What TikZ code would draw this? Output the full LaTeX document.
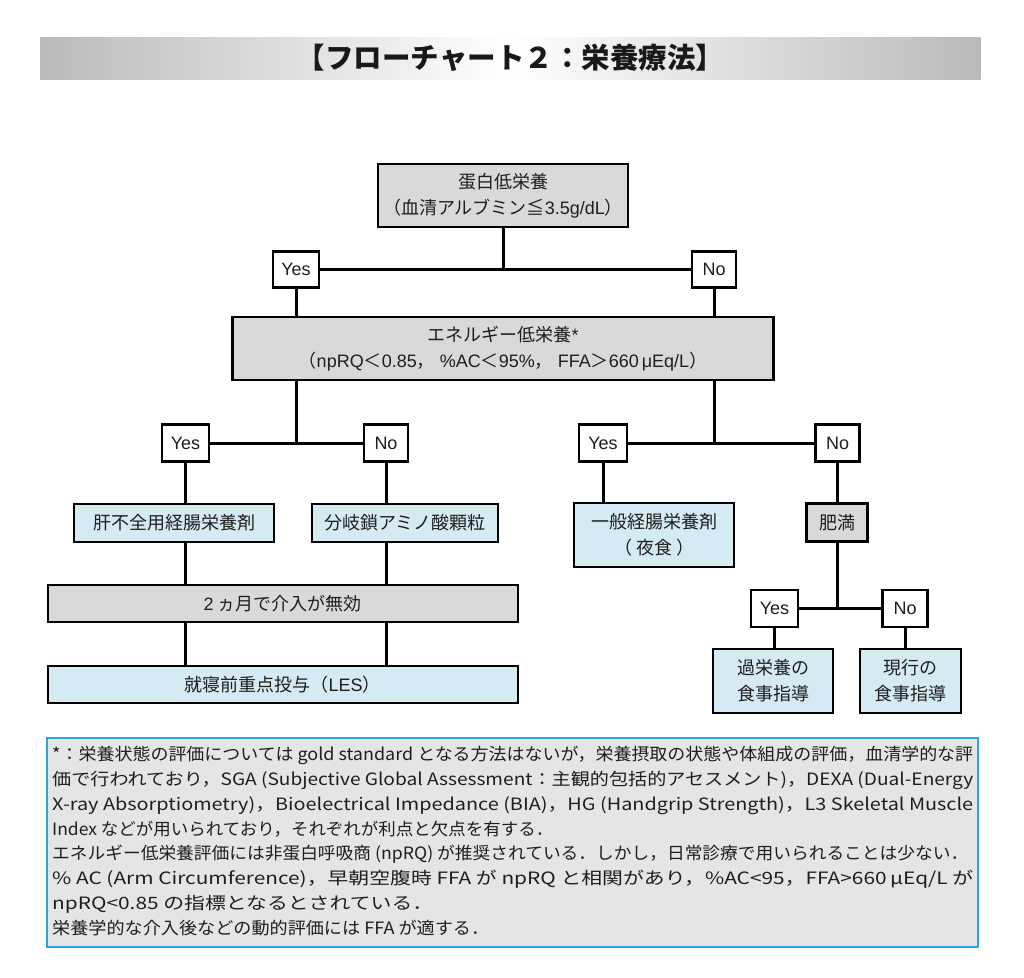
\documentclass[tikz,border=0pt]{standalone}
\usepackage{fontspec}
\usepackage{graphicx}
\setmainfont{Noto Sans CJK JP}
\newfontfamily\jp{Noto Sans CJK JP}
\newfontfamily\lat{Liberation Sans}
\definecolor{boxgray}{RGB}{217,217,217}
\definecolor{boxblue}{RGB}{214,234,243}
\definecolor{fngray}{RGB}{229,229,229}
\definecolor{fnblue}{RGB}{43,166,222}
\definecolor{tgray}{RGB}{186,186,186}
\definecolor{txt}{RGB}{30,30,30}
\tikzset{
  box/.style={draw=black, line width=2.3pt, inner sep=0pt, align=center, text=txt,
    font=\jp\fontsize{18}{26}\selectfont},
  gbox/.style={box, fill=boxgray},
  bbox/.style={box, fill=boxblue},
  yn/.style={box, fill=white},
  conn/.style={line width=3pt, draw=black},
  fn/.style={inner sep=0pt, anchor=base west, text=txt, font=\jp\fontsize{17}{20}\selectfont}
}
\begin{document}
\begin{tikzpicture}[x=1pt,y=-1pt]
\useasboundingbox (0,0) rectangle (1024,977);
\fill[white] (0,0) rectangle (1024,977);
% title bar
\shade[left color=tgray, right color=tgray, middle color=white] (40.3,37.3) rectangle (980.7,79);
\node[inner sep=0pt, text=black!90, font=\jp\bfseries\fontsize{28.5}{30}\selectfont] (title) at (510.5,58) {【フローチャート２：栄養療法】};

% nodes
\node[gbox, minimum width=250pt, minimum height=63pt] (n1) at (503,195.5) {蛋白低栄養\\（血清アルブミン≦{\lat 3.5g/dL}）};
\node[yn, minimum width=46pt, minimum height=36pt] (y1) at (296,269.5) {\lat Yes};
\node[yn, minimum width=44pt, minimum height=36pt] (no1) at (714,269.5) {\lat No};
\node[gbox, minimum width=541pt, minimum height=63pt] (n2) at (503,348.3) {エネルギー低栄養{\lat *}\\（{\lat npRQ}＜{\lat 0.85}，\hspace{5pt}{\lat\%AC}＜{\lat 95\%}，\hspace{5pt}{\lat FFA}＞{\lat 660\,μEq/L}）};

\node[yn, minimum width=47pt, minimum height=37pt] (y2) at (185.5,443) {\lat Yes};
\node[yn, minimum width=44pt, minimum height=37pt] (no2) at (386,443) {\lat No};
\node[yn, minimum width=48pt, minimum height=37pt] (y3) at (603,443) {\lat Yes};
\node[yn, minimum width=44pt, minimum height=37pt] (no3) at (837.5,443) {\lat No};

\node[bbox, minimum width=200pt, minimum height=38pt] (a1) at (174,523) {肝不全用経腸栄養剤};
\node[bbox, minimum width=186pt, minimum height=38pt] (a2) at (405,523) {分岐鎖アミノ酸顆粒};
\node[bbox, minimum width=160pt, minimum height=63.5pt] (g) at (654.3,535) {一般経腸栄養剤\\（ 夜食 ）};
\node[gbox, minimum width=61pt, minimum height=38pt] (ob) at (837,522.5) {肥満};

\node[gbox, minimum width=470pt, minimum height=37pt] (m) at (282.7,603.3) {{\lat 2} ヵ月で介入が無効};
\node[bbox, minimum width=470pt, minimum height=37pt] (les) at (282.7,684.7) {就寝前重点投与（{\lat LES}）};

\node[yn, minimum width=47pt, minimum height=37pt] (y4) at (774.5,608.8) {\lat Yes};
\node[yn, minimum width=45pt, minimum height=37pt] (no4) at (905,608.8) {\lat No};
\node[bbox, minimum width=120.6pt, minimum height=64pt] (k1) at (773,680.7) {過栄養の\\食事指導};
\node[bbox, minimum width=100.7pt, minimum height=64pt] (k2) at (910.3,680.7) {現行の\\食事指導};

% connectors
\draw[conn] (n1.south) -- (n1.south |- y1.east);
\draw[conn] (y1.east) -- (no1.west);
\draw[conn] (y1.south) -- (y1.south |- n2.north);
\draw[conn] (no1.south) -- (no1.south |- n2.north);

\coordinate (j2) at (y1.south |- y2.east);
\coordinate (j3) at (no1.south |- y3.east);
\draw[conn] (y1.south |- n2.south) -- (j2);
\draw[conn] (y2.east) -- (no2.west);
\draw[conn] (no1.south |- n2.south) -- (j3);
\draw[conn] (y3.east) -- (no3.west);

\draw[conn] (y2.south) -- (y2.south |- a1.north);
\draw[conn] (no2.south) -- (no2.south |- a2.north);
\draw[conn] (y2.south |- a1.south) -- (y2.south |- m.north);
\draw[conn] (no2.south |- a2.south) -- (no2.south |- m.north);
\draw[conn] (y2.south |- m.south) -- (y2.south |- les.north);
\draw[conn] (no2.south |- m.south) -- (no2.south |- les.north);

\draw[conn] (y3.south) -- (y3.south |- g.north);
\draw[conn] (no3.south) -- (no3.south |- ob.north);
\draw[conn] (ob.south) -- (ob.south |- y4.east);
\draw[conn] (y4.east) -- (no4.west);
\draw[conn] (y4.south) -- (y4.south |- k1.north);
\draw[conn] (no4.south) -- (no4.south |- k2.north);

% footnote
\node[draw=fnblue, fill=fngray, line width=2pt, minimum width=930.4pt, minimum height=208.7pt, inner sep=0pt] (fnbox) at (512.5,842.6) {};
\node[fn] (f1) at (52,760.5) {\resizebox{921pt}{\height}{*：栄養状態の評価については gold standard となる方法はないが，栄養摂取の状態や体組成の評価，血清学的な評}};
\node[fn] (f2) at (52,785.4) {\resizebox{921pt}{\height}{価で行われており，SGA (Subjective Global Assessment：主観的包括的アセスメント)，DEXA (Dual-Energy}};
\node[fn] (f3) at (52,810.2) {\resizebox{921pt}{\height}{X-ray Absorptiometry)，Bioelectrical Impedance (BIA)，HG (Handgrip Strength)，L3 Skeletal Muscle}};
\node[fn] (f4) at (52,835.1) {\resizebox{501pt}{\height}{Index などが用いられており，それぞれが利点と欠点を有する．}};
\node[fn] (f5) at (52,859.9) {\resizebox{916pt}{\height}{エネルギー低栄養評価には非蛋白呼吸商 (npRQ) が推奨されている．しかし，日常診療で用いられることは少ない．}};
\node[fn] (f6) at (52,884.8) {\resizebox{921pt}{\height}{\% AC (Arm Circumference)，早朝空腹時 FFA が npRQ と相関があり，\%AC<95，FFA>660\,μEq/L が}};
\node[fn] (f7) at (52,909.6) {\resizebox{381pt}{\height}{npRQ<0.85 の指標となるとされている．}};
\node[fn] (f8) at (52,934.5) {\resizebox{437pt}{\height}{栄養学的な介入後などの動的評価には FFA が適する．}};
\end{tikzpicture}
\end{document}
